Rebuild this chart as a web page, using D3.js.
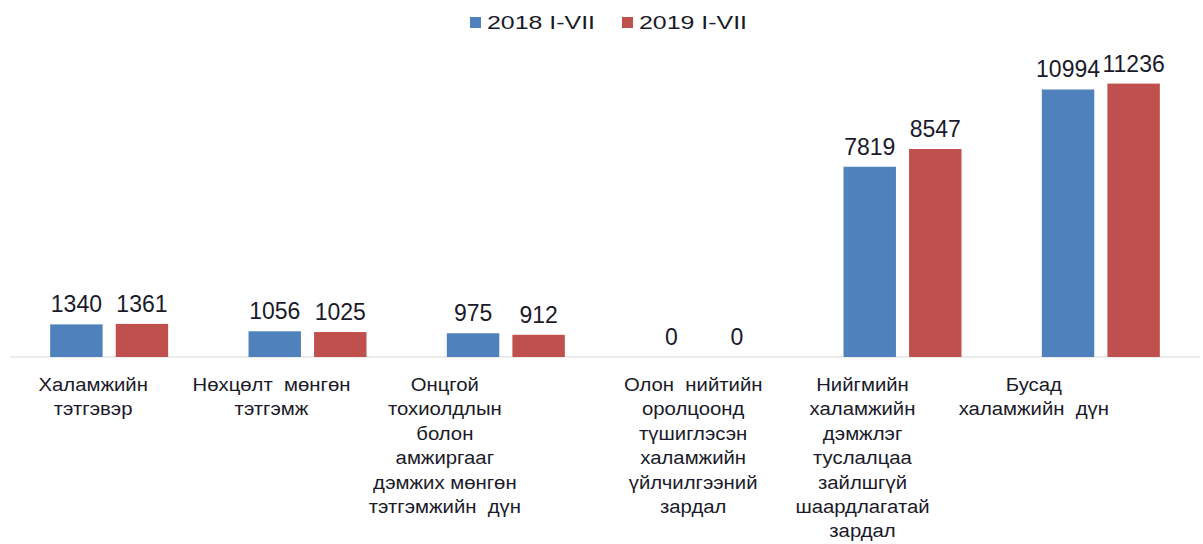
<!DOCTYPE html>
<html>
<head>
<meta charset="utf-8">
<script src="https://cdn.jsdelivr.net/npm/d3@7"></script>
<style>
  body { margin: 0; background: #fff; }
  svg { display: block; font-family: "Liberation Sans", Arial, sans-serif; }
</style>
</head>
<body>
<svg id="chart"></svg>
<script>
const categories = [
  ['Халамжийн', 'тэтгэвэр'],
  ['Нөхцөлт  мөнгөн', 'тэтгэмж'],
  ['Онцгой', 'тохиолдлын', 'болон', 'амжиргааг', 'дэмжих мөнгөн', 'тэтгэмжийн  дүн'],
  ['Олон  нийтийн', 'оролцоонд', 'түшиглэсэн', 'халамжийн', 'үйлчилгээний', 'зардал'],
  ['Нийгмийн', 'халамжийн', 'дэмжлэг', 'туслалцаа', 'зайлшгүй', 'шаардлагатай', 'зардал'],
  ['Бусад', 'халамжийн  дүн']
];
const seriesNames = ['2018 I-VII', '2019 I-VII'];
const values2018 = [1340, 1056, 975, 0, 7819, 10994];
const values2019 = [1361, 1025, 912, 0, 8547, 11236];
const colors = ['#4F81BD', '#C0504D'];

const W = 1203, H = 544;
const svg = d3.select('#chart').attr('width', W).attr('height', H);

const data = categories.map((c, i) => ({ idx: i, lines: c, vals: [values2018[i], values2019[i]] }));

const x = d3.scaleBand().domain(d3.range(categories.length)).range([10, 1200]);
const x1 = d3.scaleBand().domain([0, 1]).range([-59, 59]).paddingInner(0.2);
const y = d3.scaleLinear().domain([0, 12000]).range([357, 65]);

// baseline
svg.append('line')
  .attr('x1', x.range()[0]).attr('x2', x.range()[1])
  .attr('y1', y(0)).attr('y2', y(0))
  .attr('stroke', '#d9d9d9').attr('stroke-width', 1);

const groups = svg.append('g').selectAll('g')
  .data(data).enter().append('g')
  .attr('transform', d => `translate(${x(d.idx) + x.bandwidth() / 2},0)`);

groups.selectAll('rect')
  .data(d => d.vals.map((v, s) => ({ v, s })))
  .enter().append('rect')
  .attr('x', d => x1(d.s))
  .attr('width', x1.bandwidth())
  .attr('y', d => y(d.v))
  .attr('height', d => y(0) - y(d.v))
  .attr('fill', d => colors[d.s]);

groups.selectAll('text.val')
  .data(d => d.vals.map((v, s) => ({ v, s })))
  .enter().append('text')
  .attr('class', 'val')
  .attr('x', d => x1(d.s) + x1.bandwidth() / 2)
  .attr('y', d => y(d.v) - 12)
  .attr('text-anchor', 'middle')
  .attr('font-size', 23)
  .attr('fill', '#1a1a2a')
  .text(d => d.v);

// category labels sit a bit left of the bar groups in the original
const labelShift = [-16, -36, -61, -11, -40, -67];
groups.append('text')
  .attr('text-anchor', 'middle')
  .attr('font-size', 19)
  .attr('fill', '#1a1a2a')
  .attr('transform', d => `translate(${labelShift[d.idx]},0) scale(1.07,1)`)
  .style('white-space', 'pre')
  .selectAll('tspan')
  .data(d => d.lines)
  .enter().append('tspan')
  .attr('x', 0)
  .attr('y', (d, i) => 391 + i * 24.4)
  .text(d => d);

// legend
const legend = svg.append('g');
const legendX = [470, 622];
seriesNames.forEach((name, i) => {
  legend.append('rect')
    .attr('x', legendX[i]).attr('y', 17)
    .attr('width', 11).attr('height', 11)
    .attr('fill', colors[i]);
  legend.append('text')
    .attr('x', legendX[i] + 17).attr('y', 29)
    .attr('font-size', 19)
    .attr('fill', '#1a1a2a')
    .attr('textLength', 108)
    .attr('lengthAdjust', 'spacingAndGlyphs')
    .text(name);
});
</script>
</body>
</html>
